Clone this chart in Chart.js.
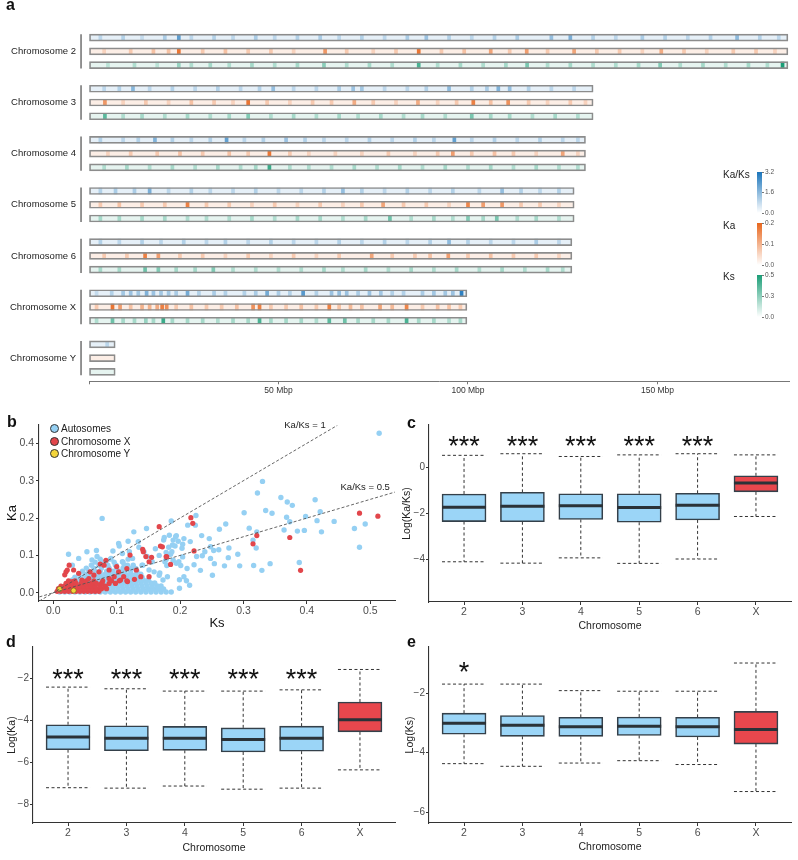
<!DOCTYPE html>
<html>
<head>
<meta charset="utf-8">
<script src="https://cdn.jsdelivr.net/npm/chart.js@4.4.1/dist/chart.umd.min.js"></script>
<style>
  body { margin: 0; background: #fff; font-family: 'Liberation Sans', Arial, sans-serif; }
  #wrap { position: relative; width: 798px; height: 860px; overflow: hidden; background: #fff; }
  canvas { position: absolute; }
  .panel { position: absolute; font-weight: bold; font-size: 16px; line-height: 1; color: #111; }
  .txt { position: absolute; white-space: nowrap; color: #222; line-height: 1; }
  .key { position: absolute; width: 9px; height: 9px; border-radius: 50%; border: 1px solid #333; box-sizing: border-box; }
</style>
</head>
<body>
<div id="wrap">
  <canvas id="chartA" width="798" height="400" style="left:0;top:0;width:798px;height:400px"></canvas>
  <canvas id="cbKaks" width="48" height="56" style="left:750px;top:165px;width:48px;height:56px"></canvas>
  <canvas id="cbKa" width="48" height="57" style="left:750px;top:216px;width:48px;height:57px"></canvas>
  <canvas id="cbKs" width="48" height="57" style="left:750px;top:268px;width:48px;height:57px"></canvas>
  <canvas id="chartB" width="400" height="232" style="left:0;top:400px;width:400px;height:232px"></canvas>
  <canvas id="chartC" width="398" height="232" style="left:400px;top:400px;width:398px;height:232px"></canvas>
  <canvas id="chartD" width="400" height="228" style="left:0;top:632px;width:400px;height:228px"></canvas>
  <canvas id="chartE" width="398" height="228" style="left:400px;top:632px;width:398px;height:228px"></canvas>

  <div class="panel" style="left:6px;top:-3px">a</div>
  <div class="panel" style="left:7px;top:414px">b</div>
  <div class="panel" style="left:407px;top:415px">c</div>
  <div class="panel" style="left:6px;top:634px">d</div>
  <div class="panel" style="left:407px;top:634px">e</div>

  <div class="txt" style="left:723px;top:170px;font-size:10px">Ka/Ks</div>
  <div class="txt" style="left:723px;top:221px;font-size:10px">Ka</div>
  <div class="txt" style="left:723px;top:272px;font-size:10px">Ks</div>

  <div class="key" style="left:50px;top:424px;background:#95d0f3"></div>
  <div class="key" style="left:50px;top:437px;background:#e2464b"></div>
  <div class="key" style="left:50px;top:449px;background:#f3d43a"></div>
  <div class="txt" style="left:61px;top:424px;font-size:10px">Autosomes</div>
  <div class="txt" style="left:61px;top:437px;font-size:10px">Chromosome X</div>
  <div class="txt" style="left:61px;top:449px;font-size:10px">Chromosome Y</div>
</div>
<script>
// ---- panel a : chromosome heat tracks ----
const chromosomes = ['Chromosome 2', 'Chromosome 3', 'Chromosome 4', 'Chromosome 5', 'Chromosome 6', 'Chromosome X', 'Chromosome Y'];
const chromLengths = [184.4, 133, 131, 128, 127.4, 99.7, 6.9];

// [position Mbp, value]
const kaksStripes = [
  [[3,.5],[9,.6],[14,.4],[20,.7],[23.7,1.9],[27,.5],[33,.6],[38,.5],[44,.7],[49,.5],[55,.6],[61,.7],[66,.5],[72,.6],[78,.5],[84,.7],[89,.9],[95,.6],[101,.5],[107,.6],[113,.7],[122,1.0],[127,1.4],[133,.6],[139,.5],[146,.7],[152,.6],[158,.5],[164,.6],[171,1.1],[177,.6],[182,.5]],
  [[4,.5],[8,.6],[11.6,1.2],[16,.5],[22,.6],[28,.5],[34,.6],[40,.5],[45,.6],[48.6,1.0],[54,.5],[60,.5],[66,.7],[69.7,.9],[72,.8],[78,.5],[84,.5],[89,.6],[95,1.1],[101,.6],[105,.7],[108,1.3],[111,1.0],[116,.6],[122,.5],[128,.5]],
  [[3,.6],[9,.5],[13,.6],[17.4,1.3],[22,.6],[27,.5],[32,.6],[36.3,1.8],[41,.5],[46,.6],[52,.9],[57,.6],[62,.5],[68,.5],[74,.6],[80,.5],[86,.6],[91,.5],[96.4,1.8],[101,.5],[107,.6],[113,.5],[119,.6],[125,.5],[129,.5]],
  [[3,.6],[7,.7],[12,.7],[16,1.4],[21,.5],[27,.6],[32,.5],[38,.5],[44,.6],[50,.5],[56,.5],[62,.6],[67,1.0],[72,.6],[78,.5],[84,.6],[90,.5],[96,.6],[103,.5],[109,1.0],[114,.6],[119,.5],[124,.6]],
  [[3,.6],[8,.5],[14,.6],[19,.5],[25,.6],[31,.5],[36,.6],[42,.5],[48,.6],[54,.5],[60,.5],[66,.6],[72,.5],[78,.6],[84,.5],[90,.6],[95,1.1],[100,.6],[106,.5],[112,.5],[118,.7],[124,.5]],
  [[2,.4],[6,.6],[9,.8],[11,.9],[13,.8],[15.2,1.3],[17,.9],[19,.8],[21,.8],[23,.7],[26,1.5],[29,.6],[33,.7],[36,.6],[41,.6],[44,.7],[47,1.5],[50,.7],[53,.6],[56.5,2.0],[60,.6],[64,.9],[66,1.0],[68,.9],[71,.7],[74,.9],[77,.8],[80,.6],[83,.6],[88,.7],[91,.8],[94,.8],[96,.9],[98.3,2.8]],
  [[4.8,.5]]
];
const kaStripes = [
  [[4,.03],[11,.04],[17,.05],[21,.05],[23.7,.17],[30,.04],[36,.05],[42,.04],[48,.04],[54,.03],[62.3,.11],[68,.04],[75,.03],[81,.04],[87,.17],[93,.04],[99,.05],[106,.09],[111,.04],[115.5,.10],[121,.04],[128,.09],[134,.04],[140,.04],[146,.03],[151,.08],[157,.04],[163,.03],[170,.04],[176,.04],[181,.03]],
  [[4.2,.11],[9,.03],[15,.04],[21,.03],[27,.05],[33,.04],[38,.03],[42,.17],[47,.04],[53,.03],[59,.04],[64,.04],[70,.08],[75,.04],[81,.03],[86.8,.08],[92,.03],[97,.04],[101.4,.15],[106,.05],[110.6,.12],[116,.04],[121,.03],[127,.04],[131,.03]],
  [[5,.03],[11,.04],[18,.04],[24,.05],[30,.04],[37,.05],[42,.04],[47.6,.17],[53,.04],[58,.03],[65,.03],[72,.03],[79,.04],[86,.03],[92,.04],[96,.1],[101,.04],[107,.05],[112,.04],[118,.03],[125,.09],[129,.03]],
  [[3,.04],[8,.05],[14,.04],[20,.04],[26,.15],[31,.04],[37,.04],[43,.03],[49,.04],[55,.03],[61,.04],[67,.03],[72,.04],[77.6,.09],[83,.04],[89,.04],[95,.03],[100,.14],[104,.1],[109,.11],[114,.04],[119,.04],[124,.03]],
  [[4,.04],[10,.04],[14.8,.15],[18.3,.1],[24,.04],[30,.04],[36,.03],[42,.04],[48,.03],[54,.04],[60,.03],[66,.04],[74.6,.09],[80,.04],[86,.04],[90,.05],[94.8,.1],[100,.04],[106,.05],[112,.04],[118,.04],[124,.03]],
  [[2,.04],[6.2,.17],[8.2,.1],[11,.05],[14,.07],[16,.07],[18,.08],[19.3,.15],[20.5,.12],[23,.04],[27,.05],[31,.04],[35,.04],[39,.05],[43.3,.12],[45,.15],[48,.04],[52,.04],[56,.05],[60,.04],[63.4,.15],[66,.05],[69,.06],[72,.05],[76.8,.09],[80,.06],[83.8,.14],[88,.04],[92,.05],[95,.05],[98,.04]],
  []
];
const ksStripes = [
  [[5,.08],[12,.1],[18,.08],[23.7,.15],[27,.1],[32,.12],[37,.1],[43,.12],[49,.1],[55,.12],[62,.18],[68,.1],[74,.12],[80,.1],[87,.35],[92,.1],[98,.12],[104,.1],[110,.12],[115.6,.22],[121,.1],[127,.12],[133,.1],[139,.1],[145,.12],[150.7,.2],[156,.1],[162,.12],[168,.1],[174,.12],[179,.1],[183,.5]],
  [[4.2,.3],[9,.1],[14,.12],[20,.1],[26,.12],[32,.1],[37,.12],[42,.2],[48,.1],[54,.12],[60,.1],[66,.12],[71,.1],[77,.12],[83,.1],[88,.12],[94,.1],[101,.22],[106,.12],[111,.12],[117,.1],[123,.12],[129,.1]],
  [[4,.1],[10,.12],[16,.1],[22,.12],[28,.1],[34,.12],[40,.1],[44,.12],[47.6,.4],[53,.1],[58,.1],[64,.1],[70,.12],[76,.1],[82,.12],[88,.1],[94,.12],[100,.1],[106,.12],[112,.1],[118,.12],[124,.1],[129,.1]],
  [[3,.12],[8,.12],[14,.12],[20,.12],[26,.1],[31,.1],[37,.1],[43,.12],[49,.1],[55,.12],[61,.12],[67,.1],[73,.12],[79.4,.25],[85,.1],[91,.12],[96,.1],[100,.2],[104,.12],[107.6,.22],[113,.1],[118,.12],[124,.1]],
  [[3,.12],[8,.12],[14.8,.25],[18.3,.2],[23,.12],[28,.12],[32.8,.2],[38,.1],[44,.1],[50,.1],[56,.1],[62,.12],[67,.1],[73,.12],[79,.1],[85,.12],[91,.1],[97,.12],[103,.1],[109,.12],[115,.1],[121,.12],[125,.1]],
  [[2,.1],[6.2,.25],[9,.12],[12,.12],[15,.15],[17,.12],[19.6,.4],[22,.12],[26,.12],[30,.12],[34,.1],[38,.12],[42,.12],[45,.35],[48,.12],[52,.12],[56,.12],[60,.1],[63.4,.3],[67.5,.25],[71,.12],[75,.12],[79,.12],[83.8,.35],[87,.12],[91,.12],[95,.1],[98,.12]],
  []
];
const trackStripes = [kaksStripes, kaStripes, ksStripes];
const trackMax = [3.2, 0.2, 0.5];
const trackColors = ['#1b75bb', '#e8661c', '#1b9e77'];
const colorbarTicks = [[0, 1.6, 3.2], [0, 0.1, 0.2], [0, 0.25, 0.5]];
const mbpTicks = [0, 50, 100, 150];

// ---- panel b : Ka vs Ks ----
// [Ks, Ka]
const autoSparse = [[.514,.427],[.330,.298],[.322,.267],[.359,.255],[.369,.243],[.377,.234],[.413,.249],[.301,.214],[.335,.220],[.345,.213],[.368,.202],[.373,.190],[.398,.204],[.421,.217],[.416,.193],[.443,.191],[.492,.184],[.475,.172],[.483,.122],[.423,.163],[.396,.167],[.385,.165],[.364,.168],[.309,.173],[.321,.163],[.315,.141],[.320,.120],[.388,.081],[.342,.078],[.316,.073],[.294,.072],[.270,.072],[.329,.060],[.291,.103],[.276,.094],[.254,.078],[.272,.184],[.262,.170],[.277,.120],[.261,.115],[.253,.113],[.248,.123],[.234,.153],[.246,.145],[.224,.181],[.212,.181],[.225,.207],[.239,.110],[.248,.092],[.235,.099],[.226,.097],[.204,.096],[.201,.073],[.206,.043],[.199,.035],[.199,.012],[.210,.032],[.186,.192],[.175,.148],[.183,.154],[.194,.153],[.189,.141],[.197,.138],[.206,.145],[.204,.130],[.182,.122],[.192,.125],[.187,.110],[.178,.108],[.178,.089],[.189,.087],[.194,.079],[.179,.073],[.180,.043],[.173,.034],[.170,.018],[.168,.053],[.077,.199],[.024,.103],[.053,.110],[.068,.113],[.094,.112],[.104,.125],[.109,.105],[.120,.110],[.125,.092],[.135,.122],[.143,.110],[.148,.097],[.156,.083],[.161,.118],[.167,.100],[.174,.141],[.176,.083],[.185,.103],[.188,.128],[.193,.150],[.198,.083],[.203,.119],[.211,.065],[.216,.137],[.251,.047],[.103,.132],[.118,.138],[.134,.137],[.147,.172],[.127,.163],[.030,.074],[.040,.092],[.061,.088],[.069,.097],[.083,.083],[.091,.092],[.099,.074],[.109,.083],[.117,.074],[.130,.065],[.141,.074],[.151,.061],[.159,.056],[.167,.047],[.222,.075],[.232,.060],[.215,.020]];
// dense cloud: [Ka, Ks list]
const autoDenseRows = [
  [.002, [.010,.018,.026,.034,.042,.050,.058,.066,.074,.082,.090,.098,.106,.114,.122,.130,.138,.146,.154,.162,.170,.178,.186]],
  [.010, [.014,.022,.030,.038,.046,.054,.062,.070,.078,.086,.094,.102,.110,.118,.126,.134,.142,.150,.158,.166,.174]],
  [.018, [.020,.028,.036,.044,.052,.060,.068,.076,.084,.092,.100,.108,.116,.124,.132,.140,.148,.156,.164]],
  [.026, [.026,.034,.042,.050,.058,.066,.074,.082,.090,.098,.106,.114,.122,.130,.138,.146,.154,.160]],
  [.034, [.030,.038,.046,.054,.062,.070,.078,.086,.094,.102,.110,.118,.126,.134,.142,.150]],
  [.042, [.034,.044,.052,.060,.068,.076,.084,.092,.100,.108,.116,.124,.132,.140]],
  [.050, [.040,.050,.058,.066,.074,.082,.090,.098,.106,.114,.122,.130,.138]],
  [.058, [.046,.056,.066,.074,.084,.094,.104,.112,.122,.132]],
  [.066, [.052,.064,.076,.088,.100,.110,.124]],
  [.074, [.060,.072,.086,.098,.112,.126,.140]],
  [.082, [.066,.080,.096,.110]],
  [.090, [.074,.090,.118]]
];
const chrXSparse = [[.483,.213],[.512,.205],[.373,.148],[.321,.153],[.315,.131],[.390,.060],[.217,.201],[.220,.186],[.222,.112],[.179,.096],[.169,.125],[.167,.177],[.172,.123],[.142,.110],[.146,.097],[.151,.083],[.138,.043],[.116,.065],[.111,.043],[.103,.056],[.088,.061],[.080,.074],[.072,.056],[.064,.047],[.056,.038],[.045,.034],[.040,.052],[.032,.061],[.025,.074],[.022,.061],[.030,.030],[.051,.026],[.064,.021],[.077,.026],[.088,.038],[.096,.043],[.106,.034],[.117,.030],[.128,.036],[.151,.043],[.185,.076],[.178,.097],[.131,.061],[.121,.101],[.100,.070],[.083,.087],[.074,.077],[.058,.056],[.020,.056],[.018,.048],[.155,.095],[.141,.116]];
const chrXDenseRows = [
  [.004, [.006,.012,.018,.024,.030,.036,.042,.048,.054,.060,.066,.072]],
  [.011, [.008,.014,.020,.026,.032,.038,.044,.050,.056,.062,.068,.076,.084]],
  [.018, [.012,.018,.024,.030,.036,.042,.048,.054,.060,.066,.074,.082]],
  [.025, [.020,.028,.036,.044,.052,.060,.068,.076,.088,.098]],
  [.032, [.024,.034,.052,.064,.078,.092,.104,.116]]
];
const chrYPoints = [[.010,.010],[.032,.006]];
const ratioLines = [1, 0.5];
const ratioLineKs = [[-0.022, 0.448], [-0.022, 0.539]];
const ksTicks = [0, 0.1, 0.2, 0.3, 0.4, 0.5];
const kaTicks = [0, 0.1, 0.2, 0.3, 0.4];

// ---- panels c, d, e : boxplots ----
const chromLabels = ['2', '3', '4', '5', '6', 'X'];
const boxFill = ['#9bd5f7', '#9bd5f7', '#9bd5f7', '#9bd5f7', '#9bd5f7', '#e8474d'];

const kaksMax = [0.51, 0.58, 0.46, 0.53, 0.58, 0.53];
const kaksQ3  = [-1.17, -1.10, -1.16, -1.16, -1.14, -0.38];
const kaksMed = [-1.75, -1.71, -1.68, -1.76, -1.66, -0.69];
const kaksQ1  = [-2.37, -2.38, -2.28, -2.40, -2.30, -1.08];
const kaksMin = [-4.12, -4.18, -3.95, -4.19, -4.00, -2.15];
const kaksStars = ['***', '***', '***', '***', '***', ''];

const kaMax = [-2.43, -2.51, -2.62, -2.62, -2.56, -1.59];
const kaQ3  = [-4.22, -4.27, -4.30, -4.37, -4.29, -3.14];
const kaMed = [-4.81, -4.86, -4.86, -4.92, -4.86, -3.98];
const kaQ1  = [-5.41, -5.46, -5.44, -5.52, -5.48, -4.56];
const kaMin = [-7.22, -7.24, -7.14, -7.29, -7.24, -6.37];
const kaStars = ['***', '***', '***', '***', '***', ''];

const ksMax = [-1.69, -1.69, -1.91, -1.93, -1.93, -0.98];
const ksQ3  = [-2.67, -2.75, -2.81, -2.80, -2.81, -2.61];
const ksMed = [-3.01, -3.08, -3.13, -3.11, -3.13, -3.22];
const ksQ1  = [-3.38, -3.45, -3.45, -3.42, -3.47, -3.71];
const ksMin = [-4.37, -4.46, -4.35, -4.27, -4.40, -5.31];
const ksStars = ['*', '', '', '', '', ''];

Chart.defaults.font.family = "'Liberation Sans', Arial, sans-serif";
Chart.defaults.color = '#4d4d4d';
Chart.defaults.animation = false;
Chart.defaults.responsive = false;
Chart.defaults.plugins.legend.display = false;
Chart.defaults.plugins.tooltip.enabled = false;

function tint(hex, t) {
  t = Math.max(0, Math.min(1, t));
  const n = parseInt(hex.slice(1), 16);
  const mix = c => Math.round(255 + (c - 255) * t);
  return 'rgb(' + mix((n >> 16) & 255) + ',' + mix((n >> 8) & 255) + ',' + mix(n & 255) + ')';
}

// text drawn at data positions
const notesPlugin = {
  id: 'notes',
  afterDatasetsDraw(chart, args, opts) {
    const ctx = chart.ctx;
    (opts.items || []).forEach(n => {
      if (!n.text) return;
      ctx.save();
      ctx.font = n.font;
      ctx.fillStyle = n.color || '#111';
      ctx.textAlign = 'center';
      ctx.textBaseline = 'middle';
      ctx.fillText(n.text, chart.scales.x.getPixelForValue(n.x), chart.scales.y.getPixelForValue(n.y) + (n.dy || 0));
      ctx.restore();
    });
  }
};

// ---------- panel a ----------
const groupStep = 3.724;
const rowY = (g, t) => g * groupStep + t;
const groupCenters = chromosomes.map((c, g) => rowY(g, 1));

const trackRows = [];
chromosomes.forEach((c, g) => {
  for (let t = 0; t < 3; t++) trackRows.push({ x: [0, chromLengths[g]], y: rowY(g, t), t: t });
});

const stripeSets = trackStripes.map((stripes, t) => {
  const data = [];
  stripes.forEach((list, g) => list.forEach(s => data.push({ x: [s[0] - 0.4, s[0] + 0.4], y: rowY(g, t), v: s[1] })));
  return {
    data: data,
    backgroundColor: ctx => ctx.raw ? tint(trackColors[t], Math.pow(ctx.raw.v / trackMax[t], 0.65)) : '#fff',
    borderWidth: 0,
    barThickness: 6,
    grouped: false,
    order: 2
  };
});

const groupBars = chromosomes.map((c, g) => ({
  type: 'line',
  data: [{ x: -2.1, y: rowY(g, -0.25) }, { x: -2.1, y: rowY(g, 2.25) }],
  borderColor: '#7a7a7a',
  borderWidth: 1.6,
  pointRadius: 0,
  clip: false,
  order: 0
}));

new Chart(document.getElementById('chartA'), {
  type: 'bar',
  data: {
    datasets: [
      { data: trackRows, backgroundColor: ctx => ctx.raw ? tint(trackColors[ctx.raw.t], 0.11) : '#fff', borderWidth: 0, barThickness: 6, grouped: false, order: 3 },
      ...stripeSets,
      { data: trackRows, backgroundColor: 'rgba(0,0,0,0)', borderColor: '#8c8c8c', borderWidth: 1, borderSkipped: false, barThickness: 7, grouped: false, order: 1 },
      ...groupBars
    ]
  },
  options: {
    indexAxis: 'y',
    layout: { padding: { left: 0, right: 9, top: 0, bottom: 0 } },
    scales: {
      x: {
        type: 'linear', min: 0, max: 184.7, offset: false,
        afterBuildTicks: s => { s.ticks = mbpTicks.map(v => ({ value: v })); },
        afterFit: s => { s.height = 17; },
        ticks: { callback: v => v === 0 ? '' : v + ' Mbp', font: { size: 8.5 }, color: '#333', padding: 1, maxRotation: 0 },
        grid: { drawOnChartArea: false, tickLength: 3, color: '#777', offset: false },
        border: { color: '#777', width: 1 }
      },
      y: {
        type: 'linear', reverse: true, min: -1.38, max: 25.03, offset: false,
        afterBuildTicks: s => { s.ticks = groupCenters.map(v => ({ value: v })); },
        afterFit: s => { s.width = 89; },
        ticks: { callback: (v, i) => chromosomes[i], autoSkip: false, padding: 13, font: { size: 9.5 }, color: '#222' },
        grid: { display: false, drawTicks: false },
        border: { display: false }
      }
    }
  }
});

// colour keys
function colorBar(id, t) {
  const ticks = colorbarTicks[t];
  new Chart(document.getElementById(id), {
    type: 'bar',
    data: {
      labels: ['k'],
      datasets: [{
        data: [[0, trackMax[t]]],
        barPercentage: 1, categoryPercentage: 1, borderWidth: 0,
        backgroundColor: ctx => {
          const a = ctx.chart.chartArea;
          if (!a) return trackColors[t];
          const g = ctx.chart.ctx.createLinearGradient(0, a.bottom, 0, a.top);
          g.addColorStop(0, '#ffffff');
          g.addColorStop(1, trackColors[t]);
          return g;
        }
      }]
    },
    options: {
      layout: { padding: { left: 7, top: 7, bottom: 8, right: 0 } },
      scales: {
        x: { display: false },
        y: {
          position: 'right', min: 0, max: trackMax[t], beginAtZero: false,
          afterBuildTicks: s => { s.ticks = ticks.map(v => ({ value: v })); },
          afterFit: s => { s.width = 36; },
          ticks: { callback: v => v.toFixed(1), font: { size: 6.5 }, color: '#555', padding: 1 },
          grid: { drawOnChartArea: false, tickLength: 2, color: '#777' },
          border: { display: false }
        }
      }
    }
  });
}
colorBar('cbKaks', 0);
colorBar('cbKa', 1);
colorBar('cbKs', 2);

// ---------- panel b ----------
const toXY = list => list.map(p => ({ x: p[0], y: p[1] }));
const rowsToXY = rows => {
  const out = [];
  rows.forEach(r => r[1].forEach(ks => out.push({ x: ks, y: r[0] })));
  return out;
};
const autoPts = toXY(autoSparse).concat(rowsToXY(autoDenseRows));
const chrXPts = toXY(chrXSparse).concat(rowsToXY(chrXDenseRows));

const axisStyle = {
  grid: { drawOnChartArea: false, tickLength: 3, color: '#333', offset: false },
  border: { color: '#333', width: 1.1 }
};

new Chart(document.getElementById('chartB'), {
  type: 'scatter',
  data: {
    datasets: [
      ...ratioLines.map((r, i) => ({
        type: 'line',
        data: ratioLineKs[i].map(k => ({ x: k, y: k * r })),
        borderColor: '#555', borderWidth: 0.9, borderDash: [3, 2], pointRadius: 0, order: 0
      })),
      { data: toXY(chrYPoints), backgroundColor: '#f3d43a', borderColor: '#6b5a10', borderWidth: 0.6, pointRadius: 2.6, order: 1 },
      { data: chrXPts, backgroundColor: '#e2464b', borderWidth: 0, pointRadius: 2.6, order: 2 },
      { data: autoPts, backgroundColor: '#95d0f3', borderWidth: 0, pointRadius: 2.7, order: 3 }
    ]
  },
  plugins: [notesPlugin],
  options: {
    layout: { padding: { left: 0, right: 5, top: 25, bottom: 0 } },
    scales: {
      x: {
        type: 'linear', min: -0.0226, max: 0.539, ...axisStyle,
        afterBuildTicks: s => { s.ticks = ksTicks.map(v => ({ value: v })); },
        afterFit: s => { s.height = 31; },
        ticks: { callback: v => v.toFixed(1), font: { size: 10.5 }, color: '#4d4d4d', padding: 1 },
        title: { display: true, text: 'Ks', font: { size: 13 }, color: '#111', padding: { top: 0, bottom: 1 } }
      },
      y: {
        type: 'linear', min: -0.022, max: 0.449, ...axisStyle,
        afterBuildTicks: s => { s.ticks = kaTicks.map(v => ({ value: v })); },
        afterFit: s => { s.width = 39; },
        ticks: { callback: v => v.toFixed(1), font: { size: 10.5 }, color: '#4d4d4d', padding: 2 },
        title: { display: true, text: 'Ka', font: { size: 13 }, color: '#111', padding: { top: 5, bottom: 0 } }
      }
    },
    plugins: {
      notes: {
        items: [
          { x: 0.397, y: 0.447, text: 'Ka/Ks = 1', font: '9.5px "Liberation Sans", Arial', color: '#222' },
          { x: 0.492, y: 0.282, text: 'Ka/Ks = 0.5', font: '9.5px "Liberation Sans", Arial', color: '#222' }
        ]
      }
    }
  }
});

// ---------- panels c, d, e ----------
function boxChart(id, st, cfg) {
  const hw = 0.377;
  const gap = { x: null, y: null };
  const boxes = st.q1.map((q, i) => ({ x: i + 1, y: [q, st.q3[i]] }));
  const med = [];
  const whisk = [];
  chromLabels.forEach((lab, i) => {
    const c = i + 1;
    med.push({ x: c - hw, y: st.med[i] }, { x: c + hw, y: st.med[i] }, gap);
    whisk.push({ x: c, y: st.q3[i] }, { x: c, y: st.max[i] }, gap,
               { x: c - hw, y: st.max[i] }, { x: c + hw, y: st.max[i] }, gap,
               { x: c, y: st.q1[i] }, { x: c, y: st.min[i] }, gap,
               { x: c - hw, y: st.min[i] }, { x: c + hw, y: st.min[i] }, gap);
  });
  new Chart(document.getElementById(id), {
    type: 'bar',
    data: {
      datasets: [
        { type: 'line', data: med, borderColor: '#2a3238', borderWidth: 3, pointRadius: 0, spanGaps: false, order: 0 },
        { data: boxes, backgroundColor: boxFill, borderColor: '#34404a', borderWidth: 1.6, borderSkipped: false, barThickness: 44, grouped: false, order: 1 },
        { type: 'line', data: whisk, borderColor: '#333', borderWidth: 1, borderDash: [3, 2.5], pointRadius: 0, spanGaps: false, order: 2 }
      ]
    },
    plugins: [notesPlugin],
    options: {
      layout: { padding: { left: 0, right: cfg.right, top: cfg.top, bottom: 0 } },
      scales: {
        x: {
          type: 'linear', min: 0.4, max: 6.6, offset: false, ...axisStyle,
          afterBuildTicks: s => { s.ticks = chromLabels.map((l, i) => ({ value: i + 1 })); },
          afterFit: s => { s.height = cfg.xh; },
          ticks: { callback: (v, i) => chromLabels[i], font: { size: 10.5 }, color: '#4d4d4d', padding: 1 },
          title: { display: true, text: 'Chromosome', font: { size: 10.5 }, color: '#222', padding: { top: 0, bottom: cfg.xpad } }
        },
        y: {
          type: 'linear', min: cfg.min, max: cfg.max, beginAtZero: false, ...axisStyle,
          afterBuildTicks: s => { s.ticks = cfg.ticks.map(v => ({ value: v })); },
          afterFit: s => { s.width = cfg.yw; },
          ticks: { callback: v => v < 0 ? '\u2212' + Math.abs(v) : String(v), font: { size: 10 }, color: '#4d4d4d', padding: 1 },
          title: { display: true, text: cfg.title, font: { size: 10.5 }, color: '#222', padding: { top: cfg.ypad, bottom: 0 } }
        }
      },
      plugins: {
        notes: {
          items: st.stars.map((s, i) => ({ x: i + 1, y: cfg.starY, text: s, font: '27px "Liberation Sans", Arial', color: '#111', dy: 6 }))
        }
      }
    }
  });
}

boxChart('chartC',
  { min: kaksMin, q1: kaksQ1, med: kaksMed, q3: kaksQ3, max: kaksMax, stars: kaksStars },
  { min: -5.87, max: 1.83, ticks: [-4, -2, 0], title: 'Log(Ka/Ks)', starY: 1.13, top: 25, right: 7, xh: 30, yw: 29, xpad: 0, ypad: 1 });
boxChart('chartD',
  { min: kaMin, q1: kaQ1, med: kaMed, q3: kaQ3, max: kaMax, stars: kaStars },
  { min: -8.9, max: -0.52, ticks: [-8, -6, -4, -2], title: 'Log(Ka)', starY: -1.84, top: 15, right: 5, xh: 37, yw: 33, xpad: 6, ypad: 6 });
boxChart('chartE',
  { min: ksMin, q1: ksQ1, med: ksMed, q3: ksQ3, max: ksMax, stars: ksStars },
  { min: -6.37, max: -0.44, ticks: [-6, -4, -2], title: 'Log(Ks)', starY: -1.13, top: 15, right: 7, xh: 37, yw: 29, xpad: 7, ypad: 4 });
</script>
</body>
</html>
